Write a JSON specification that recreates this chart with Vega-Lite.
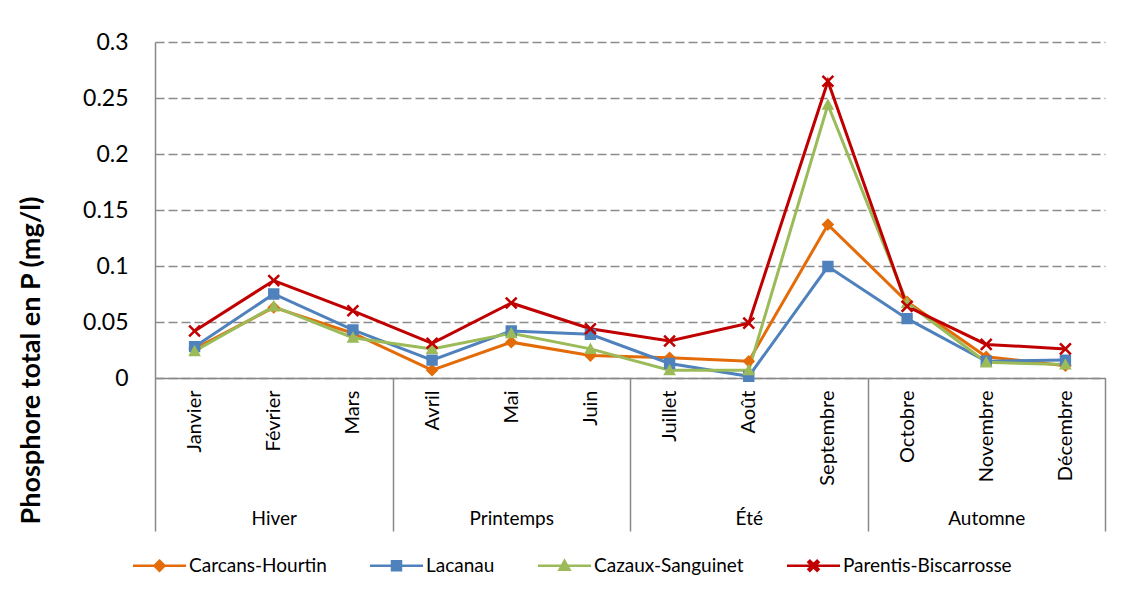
{
  "$schema": "https://vega.github.io/schema/vega-lite/v6.json",
  "autosize": {"type": "none"},
  "padding": {"left": 155, "top": 42, "right": 16, "bottom": 216},
  "width": 950,
  "height": 336,
  "background": "white",
  "config": {
    "font": "Lato",
    "view": {"stroke": null},
    "axis": {"labelColor": "#000000", "titleColor": "#000000", "labelFont": "Lato", "titleFont": "Lato"},
    "legend": {
      "orient": "none", "legendX": -23, "legendY": 514, "direction": "horizontal", "title": null,
      "symbolSize": 100, "labelFontSize": 19, "labelColor": "#000000", "labelFont": "Lato", "labelLimit": 400,
      "columnPadding": 38, "symbolOffset": 18, "labelOffset": 20
    }
  },
  "data": {"name": "p"},
  "datasets": {
    "p": [
      {"Mois": "Janvier", "Saison": "Hiver", "Lac": "Carcans-Hourtin", "P": 0.026},
      {"Mois": "Février", "Saison": "Hiver", "Lac": "Carcans-Hourtin", "P": 0.063},
      {"Mois": "Mars", "Saison": "Hiver", "Lac": "Carcans-Hourtin", "P": 0.040},
      {"Mois": "Avril", "Saison": "Printemps", "Lac": "Carcans-Hourtin", "P": 0.007},
      {"Mois": "Mai", "Saison": "Printemps", "Lac": "Carcans-Hourtin", "P": 0.032},
      {"Mois": "Juin", "Saison": "Printemps", "Lac": "Carcans-Hourtin", "P": 0.020},
      {"Mois": "Juillet", "Saison": "Été", "Lac": "Carcans-Hourtin", "P": 0.018},
      {"Mois": "Août", "Saison": "Été", "Lac": "Carcans-Hourtin", "P": 0.015},
      {"Mois": "Septembre", "Saison": "Été", "Lac": "Carcans-Hourtin", "P": 0.137},
      {"Mois": "Octobre", "Saison": "Automne", "Lac": "Carcans-Hourtin", "P": 0.068},
      {"Mois": "Novembre", "Saison": "Automne", "Lac": "Carcans-Hourtin", "P": 0.019},
      {"Mois": "Décembre", "Saison": "Automne", "Lac": "Carcans-Hourtin", "P": 0.011},
      {"Mois": "Janvier", "Saison": "Hiver", "Lac": "Lacanau", "P": 0.028},
      {"Mois": "Février", "Saison": "Hiver", "Lac": "Lacanau", "P": 0.075},
      {"Mois": "Mars", "Saison": "Hiver", "Lac": "Lacanau", "P": 0.043},
      {"Mois": "Avril", "Saison": "Printemps", "Lac": "Lacanau", "P": 0.016},
      {"Mois": "Mai", "Saison": "Printemps", "Lac": "Lacanau", "P": 0.042},
      {"Mois": "Juin", "Saison": "Printemps", "Lac": "Lacanau", "P": 0.039},
      {"Mois": "Juillet", "Saison": "Été", "Lac": "Lacanau", "P": 0.013},
      {"Mois": "Août", "Saison": "Été", "Lac": "Lacanau", "P": 0.0015},
      {"Mois": "Septembre", "Saison": "Été", "Lac": "Lacanau", "P": 0.0995},
      {"Mois": "Octobre", "Saison": "Automne", "Lac": "Lacanau", "P": 0.053},
      {"Mois": "Novembre", "Saison": "Automne", "Lac": "Lacanau", "P": 0.015},
      {"Mois": "Décembre", "Saison": "Automne", "Lac": "Lacanau", "P": 0.016},
      {"Mois": "Janvier", "Saison": "Hiver", "Lac": "Cazaux-Sanguinet", "P": 0.024},
      {"Mois": "Février", "Saison": "Hiver", "Lac": "Cazaux-Sanguinet", "P": 0.064},
      {"Mois": "Mars", "Saison": "Hiver", "Lac": "Cazaux-Sanguinet", "P": 0.036},
      {"Mois": "Avril", "Saison": "Printemps", "Lac": "Cazaux-Sanguinet", "P": 0.026},
      {"Mois": "Mai", "Saison": "Printemps", "Lac": "Cazaux-Sanguinet", "P": 0.040},
      {"Mois": "Juin", "Saison": "Printemps", "Lac": "Cazaux-Sanguinet", "P": 0.026},
      {"Mois": "Juillet", "Saison": "Été", "Lac": "Cazaux-Sanguinet", "P": 0.007},
      {"Mois": "Août", "Saison": "Été", "Lac": "Cazaux-Sanguinet", "P": 0.007},
      {"Mois": "Septembre", "Saison": "Été", "Lac": "Cazaux-Sanguinet", "P": 0.244},
      {"Mois": "Octobre", "Saison": "Automne", "Lac": "Cazaux-Sanguinet", "P": 0.067},
      {"Mois": "Novembre", "Saison": "Automne", "Lac": "Cazaux-Sanguinet", "P": 0.014},
      {"Mois": "Décembre", "Saison": "Automne", "Lac": "Cazaux-Sanguinet", "P": 0.012},
      {"Mois": "Janvier", "Saison": "Hiver", "Lac": "Parentis-Biscarrosse", "P": 0.042},
      {"Mois": "Février", "Saison": "Hiver", "Lac": "Parentis-Biscarrosse", "P": 0.087},
      {"Mois": "Mars", "Saison": "Hiver", "Lac": "Parentis-Biscarrosse", "P": 0.060},
      {"Mois": "Avril", "Saison": "Printemps", "Lac": "Parentis-Biscarrosse", "P": 0.031},
      {"Mois": "Mai", "Saison": "Printemps", "Lac": "Parentis-Biscarrosse", "P": 0.067},
      {"Mois": "Juin", "Saison": "Printemps", "Lac": "Parentis-Biscarrosse", "P": 0.044},
      {"Mois": "Juillet", "Saison": "Été", "Lac": "Parentis-Biscarrosse", "P": 0.033},
      {"Mois": "Août", "Saison": "Été", "Lac": "Parentis-Biscarrosse", "P": 0.049},
      {"Mois": "Septembre", "Saison": "Été", "Lac": "Parentis-Biscarrosse", "P": 0.265},
      {"Mois": "Octobre", "Saison": "Automne", "Lac": "Parentis-Biscarrosse", "P": 0.064},
      {"Mois": "Novembre", "Saison": "Automne", "Lac": "Parentis-Biscarrosse", "P": 0.030},
      {"Mois": "Décembre", "Saison": "Automne", "Lac": "Parentis-Biscarrosse", "P": 0.026}
    ]
  },
  "layer": [
    {
      "encoding": {
        "x": {
          "field": "Mois", "type": "nominal",
          "sort": ["Janvier", "Février", "Mars", "Avril", "Mai", "Juin", "Juillet", "Août", "Septembre", "Octobre", "Novembre", "Décembre"],
          "scale": {"type": "point", "padding": 0.5},
          "axis": {"title": null, "labelAngle": -90, "labelFontSize": 20, "labelPadding": 12, "ticks": false, "domainColor": "#888888", "domainWidth": 1.5, "grid": false}
        },
        "y": {
          "field": "P", "type": "quantitative",
          "scale": {"domain": [0, 0.3], "nice": false, "zero": true},
          "axis": {
            "values": [0, 0.05, 0.1, 0.15, 0.2, 0.25, 0.3],
            "format": "~g",
            "title": "Phosphore total en P (mg/l)",
            "titleFontSize": 27, "titleFontWeight": "bold",
            "titleX": -116, "titleY": 318, "titleAngle": -90, "titleAlign": "center", "titleBaseline": "alphabetic",
            "labelFontSize": 23, "labelPadding": 27, "ticks": false,
            "domainColor": "#888888", "domainWidth": 1.5,
            "grid": true, "gridColor": "#8c8c8c", "gridDash": [9, 4], "gridWidth": 1.5
          }
        },
        "color": {
          "field": "Lac", "type": "nominal",
          "scale": {"domain": ["Carcans-Hourtin", "Lacanau", "Cazaux-Sanguinet", "Parentis-Biscarrosse"], "range": ["#E36C09", "#4F81BD", "#9BBB59", "#C00000"]},
          "legend": {
            "encode": {"symbols": {"update": {"stroke": {"scale": "color", "field": "value"}, "strokeWidth": {"value": 2.5}}}}
          }
        }
      },
      "layer": [
        {
          "mark": {"type": "line", "strokeWidth": 3}
        },
        {
          "mark": {"type": "point", "filled": true, "size": 160, "opacity": 1},
          "encoding": {
            "shape": {
              "field": "Lac", "type": "nominal",
              "scale": {
                "domain": ["Carcans-Hourtin", "Lacanau", "Cazaux-Sanguinet", "Parentis-Biscarrosse"],
                "range": [
                  "M0,-1L1,0L0,1L-1,0ZM-5.3,0H5.3",
                  "M-0.9,-0.9H0.9V0.9H-0.9ZM-5.3,0H5.3",
                  "M0,-1L1,0.8H-1ZM-5.3,0H5.3",
                  "M-1,-0.72L-0.72,-1L0,-0.28L0.72,-1L1,-0.72L0.28,0L1,0.72L0.72,1L0,0.28L-0.72,1L-1,0.72L-0.28,0ZM-5.3,0H5.3"
                ]
              },
              "legend": {
                "encode": {"symbols": {"update": {"stroke": {"scale": "color", "field": "value"}, "strokeWidth": {"value": 2.5}}}}
              }
            }
          }
        }
      ]
    },
    {
      "mark": {"type": "rule", "opacity": 0},
      "encoding": {
        "x": {
          "field": "Saison", "type": "nominal",
          "sort": ["Hiver", "Printemps", "Été", "Automne"],
          "scale": {"type": "band", "paddingInner": 0, "paddingOuter": 0},
          "axis": {"orient": "bottom", "title": null, "labelAngle": 0, "labelFontSize": 19, "domain": false, "ticks": true, "tickBand": "extent", "tickSize": 153, "tickColor": "#888888", "tickWidth": 1.5, "labelPadding": -22, "grid": false}
        }
      }
    }
  ],
  "resolve": {"scale": {"x": "independent"}, "axis": {"x": "independent"}}
}
